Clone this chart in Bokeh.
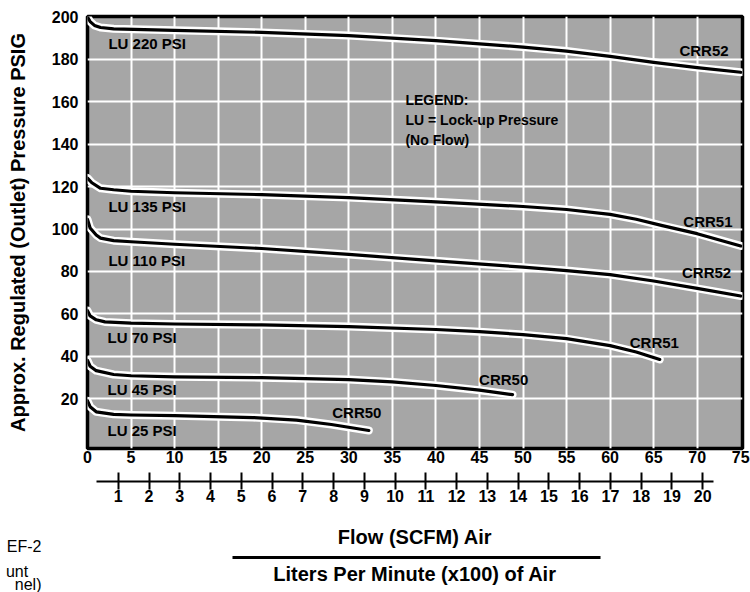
from bokeh.plotting import figure
from bokeh.models import Range1d, LinearAxis, FixedTicker, ColumnDataSource
from bokeh.layouts import column
from bokeh.core.properties import value
from bokeh.embed import file_html
from bokeh.resources import INLINE

FONT = "'Liberation Sans', Arial, sans-serif"

# ---------------- data ----------------
scfm_ticks = list(range(0, 80, 5))
lpm_ticks = list(range(1, 21))
psi_ticks = list(range(20, 201, 20))

lu220_x = [0, 0.3, 0.8, 1.5, 3, 10, 20, 30, 40, 50, 55, 60, 65, 70, 75]
lu220_y = [200, 197.8, 196, 195, 194.4, 193.7, 192.7, 191.2, 188.8, 185.8, 183.9, 181.4, 178.6, 176.1, 173.9]

lu135_x = [0, 0.5, 1.5, 3, 5, 10, 20, 30, 40, 50, 55, 60, 63, 66, 70, 75]
lu135_y = [124, 121.8, 119.2, 118.5, 117.8, 117.1, 116.2, 114.8, 112.8, 110.6, 109.2, 106.9, 104.6, 101.6, 97.8, 92]

lu110_x = [0, 0.3, 1, 1.5, 3, 5, 10, 20, 30, 40, 50, 55, 60, 65, 70, 75]
lu110_y = [104.5, 100.5, 97.2, 95.7, 94.5, 94, 92.8, 90.8, 88, 85, 82, 80.4, 78.5, 75.5, 72, 68.4]

lu70_x = [0, 0.3, 1, 2, 5, 10, 20, 30, 40, 45, 50, 55, 60, 63, 65.7]
lu70_y = [61.5, 59, 57.2, 56.2, 55.6, 55.2, 54.8, 54, 52.6, 51.6, 50.2, 48.3, 45, 42, 38.5]

lu45_x = [0, 0.3, 1, 3, 5, 10, 20, 30, 35, 40, 45, 48.8]
lu45_y = [38, 35.3, 33.2, 31.4, 30.8, 30.3, 29.9, 29, 27.9, 26.2, 24, 21.9]

lu25_x = [0, 0.3, 1, 3, 5, 10, 19, 24, 28, 32.3]
lu25_y = [19, 16.2, 13.8, 12.6, 12.3, 12, 11.1, 9.9, 7.8, 5]

left_labels = ["LU 220 PSI", "LU 135 PSI", "LU 110 PSI", "LU 70 PSI", "LU 45 PSI", "LU 25 PSI"]
left_x = [2.4, 2.4, 2.4, 2.3, 2.3, 2.3]
left_y = [187.5, 110.7, 85.1, 48.9, 24.5, 5.0]

right_labels = ["CRR52", "CRR51", "CRR52", "CRR51", "CRR50", "CRR50"]
right_x = [73.6, 74.05, 73.9, 67.9, 50.6, 33.75]
right_y = [184.0, 103.6, 79.5, 46.3, 29.0, 13.4]

legend_lines = ["LEGEND:", "LU = Lock-up Pressure", "(No Flow)"]
legend_x = [36.5, 36.5, 36.5]
legend_y = [161.0, 151.6, 142.2]

title_lines = ["Flow (SCFM) Air", "Liters Per Minute (x100) of Air"]
caption_lines = ["EF-2", "unt\u00a0\u00a0\u00a0", "nel)"]

LPM_PER_SCFM = 0.283168  # x100 liters per minute per SCFM

# ---------------- layout constants (pixels) ----------------
W, H = 750, 592
H_TOP = 527               # main chart canvas height
F_LEFT, F_RIGHT, F_TOP, F_BOTTOM = 87, 742, 16, 448

# ---------------- main figure ----------------
p = figure(width=W, height=H_TOP, x_range=Range1d(0, 75.2), y_range=Range1d(-3.5, 200.2),
           output_backend="svg", toolbar_location=None,
           min_border_left=F_LEFT, min_border_right=W - F_RIGHT,
           min_border_top=F_TOP, min_border_bottom=H_TOP - F_BOTTOM)
p.background_fill_color = "#a6a6a6"
p.border_fill_color = "white"
p.outline_line_color = "black"
p.outline_line_width = 3.5

p.xgrid.ticker = FixedTicker(ticks=list(range(5, 75, 5)))
p.ygrid.ticker = FixedTicker(ticks=list(range(20, 200, 20)))
for g in (p.xgrid[0], p.ygrid[0]):
    g.grid_line_color = "white"
    g.grid_line_width = 2
    g.grid_line_alpha = 1.0

# primary x axis (SCFM)
xa = p.xaxis[0]
xa.ticker = FixedTicker(ticks=scfm_ticks)
xa.axis_line_color = None
xa.major_tick_line_color = None
xa.minor_tick_line_color = None
xa.major_tick_out = 0
xa.major_label_standoff = 2
xa.major_label_text_font = FONT
xa.major_label_text_font_size = "16px"
xa.major_label_text_font_style = "bold"
xa.major_label_text_color = "black"
xa.axis_label = "\u00a0"
xa.axis_label_text_font_size = "10px"
xa.axis_label_standoff = 2

# y axis
ya = p.yaxis[0]
ya.ticker = FixedTicker(ticks=psi_ticks)
ya.axis_line_color = None
ya.major_tick_line_color = None
ya.minor_tick_line_color = None
ya.major_tick_out = 0
ya.major_label_standoff = 9
ya.major_label_text_font = FONT
ya.major_label_text_font_size = "16px"
ya.major_label_text_font_style = "bold"
ya.major_label_text_color = "black"
ya.axis_label = "Approx. Regulated (Outlet) Pressure PSIG"
ya.axis_label_text_font = FONT
ya.axis_label_text_font_size = "20px"
ya.axis_label_text_font_style = "bold"
ya.axis_label_text_color = "black"
ya.axis_label_standoff = 20

# secondary x axis (LPM x100)
p.extra_x_ranges = {"lpm": Range1d(0, 75.2 * LPM_PER_SCFM)}
la = LinearAxis(x_range_name="lpm", ticker=FixedTicker(ticks=lpm_ticks), bounds=(0.3, 20.35))
la.axis_line_width = 2
la.axis_line_color = "black"
la.major_tick_in = 9
la.major_tick_out = 8
la.major_tick_line_width = 2
la.minor_tick_line_color = None
la.major_label_standoff = 0
la.major_label_text_font = FONT
la.major_label_text_font_size = "16px"
la.major_label_text_font_style = "bold"
la.major_label_text_color = "black"
p.add_layout(la, "below")

# ---------------- curves ----------------
curves = [(lu220_x, lu220_y), (lu135_x, lu135_y), (lu110_x, lu110_y),
          (lu70_x, lu70_y), (lu45_x, lu45_y), (lu25_x, lu25_y)]
for cx, cy in curves:
    p.line(cx, cy, line_color="white", line_width=8, line_join="round", line_cap="round")
for cx, cy in curves:
    p.line(cx, cy, line_color="black", line_width=3.2, line_join="round", line_cap="round")

# ---------------- in-chart texts ----------------
src_l = ColumnDataSource(dict(x=left_x, y=left_y, text=left_labels))
p.text("x", "y", text="text", source=src_l, text_font=value(FONT), text_font_size="15px",
       text_font_style="bold", text_color="black", text_align="left", text_baseline="middle")
src_r = ColumnDataSource(dict(x=right_x, y=right_y, text=right_labels))
p.text("x", "y", text="text", source=src_r, text_font=value(FONT), text_font_size="15px",
       text_font_style="bold", text_color="black", text_align="right", text_baseline="middle")
src_g = ColumnDataSource(dict(x=legend_x, y=legend_y, text=legend_lines))
p.text("x", "y", text="text", source=src_g, text_font=value(FONT), text_font_size="14px",
       text_font_style="bold", text_color="black", text_align="left", text_baseline="middle")

# ---------------- bottom strip: titles, rule, cut-off caption ----------------
# its frame is aligned with the main frame (F_LEFT..F_RIGHT); data units = page pixels
q = figure(width=W, height=H - H_TOP, x_range=Range1d(F_LEFT, F_RIGHT), y_range=Range1d(H, H_TOP),
           output_backend="svg", toolbar_location=None, x_axis_location=None,
           min_border_left=F_LEFT, min_border_right=W - F_RIGHT, min_border_top=0, min_border_bottom=0)
q.xgrid.visible = False
q.ygrid.visible = False
q.outline_line_color = None
q.background_fill_color = "white"
q.border_fill_color = "white"

cap_ticks = [546, 571, 591.5]
qa = q.yaxis[0]
qa.ticker = FixedTicker(ticks=cap_ticks)
qa.major_label_overrides = {t: s for t, s in zip(cap_ticks, caption_lines)}
qa.axis_line_color = None
qa.major_tick_line_color = None
qa.minor_tick_line_color = None
qa.major_tick_out = 0
qa.major_label_standoff = 46
qa.major_label_text_font = FONT
qa.major_label_text_font_size = "16px"
qa.major_label_text_color = "black"

mid_x = (F_LEFT + F_RIGHT) / 2
q.text(x=[mid_x, mid_x], y=[536, 573.5], text=title_lines, text_font=value(FONT),
       text_font_size="20px", text_font_style="bold", text_color="black",
       text_align="center", text_baseline="middle")
q.segment(x0=[232], y0=[557], x1=[600], y1=[557], line_color="black", line_width=3)

open("out.html", "w").write(file_html(column(p, q), INLINE))
